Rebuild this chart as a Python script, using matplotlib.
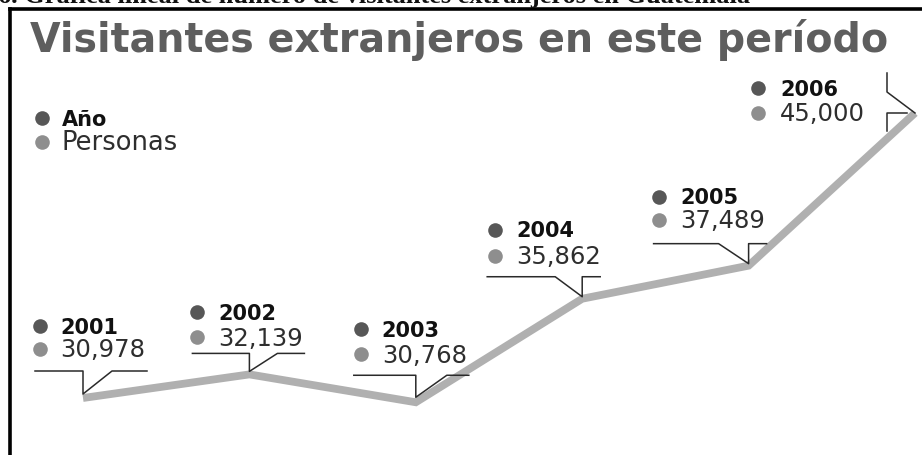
import matplotlib
matplotlib.use("Agg")
import matplotlib.pyplot as plt
from matplotlib.lines import Line2D

years = [2001, 2002, 2003, 2004, 2005, 2006]
visitors = [30978, 32139, 30768, 35862, 37489, 45000]
value_labels = ["30,978", "32,139", "30,768", "35,862", "37,489", "45,000"]

title = "Visitantes extranjeros en este período"
caption = "6. Gráfica lineal de número de visitantes extranjeros en Guatemala"
legend_labels = ["Año", "Personas"]

W, H = 922, 455
DARK_DOT = "#575757"
LIGHT_DOT = "#8e8e8e"
LINE_COL = "#b0b0b0"

fig = plt.figure(figsize=(W / 100, H / 100), dpi=100)
ax = fig.add_axes([0, 0, 1, 1])
ax.set_axis_off()

# pixel anchors: first year at x=83, last at x=915; 30978 at y=398, 45000 at y=113
px_per_year = (915 - 83) / (years[-1] - years[0])
x0 = years[0] - 83 / px_per_year
ax.set_xlim(x0, x0 + W / px_per_year)
units_per_px = (visitors[-1] - visitors[0]) / (398 - 113)
ax.set_ylim(visitors[0] - (H - 398) * units_per_px, visitors[0] + 398 * units_per_px)


def px(x, y):
    # figure pixel (y from top) -> figure fraction
    return x / W, 1 - y / H


# frame: thick left and top rules
fig.add_artist(Line2D([10 / W, 10 / W], [0, 1 - 9 / H], color="black", lw=2.6,
                      transform=fig.transFigure, solid_capstyle="projecting"))
fig.add_artist(Line2D([10 / W, 1], [1 - 9 / H, 1 - 9 / H], color="black", lw=2.6,
                      transform=fig.transFigure, solid_capstyle="projecting"))

# caption, cut off at the top edge as in the scan
fig.text(*px(-2, 3), caption, fontsize=19, fontweight="bold",
         family="Liberation Serif", color="#111111", va="baseline", ha="left")

fig.text(*px(30, 52), title, fontsize=28.5, fontweight="bold",
         family="DejaVu Sans", color="#5e5e5e", va="baseline", ha="left")

# legend
for i, (lab, col) in enumerate(zip(legend_labels, [DARK_DOT, LIGHT_DOT])):
    cy = 118 + 24 * i
    ax.plot(*px(42, cy), "o", ms=10.5, color=col, mec="none", transform=fig.transFigure)
    if i == 0:
        fig.text(*px(62, cy + 7.5), lab, fontsize=15, fontweight="bold",
                 color="#111111", va="baseline")
    else:
        fig.text(*px(62, cy + 8.5), lab, fontsize=18.5, color="#2e2e2e",
                 va="baseline")

# the line
ax.plot(years, visitors, color=LINE_COL, lw=5.6, solid_joinstyle="miter",
        solid_capstyle="butt", zorder=2)

# callout pointer shapes, pixel offsets from the point (dy downwards)
callouts = [
    [[(-48, -27), (0, -27), (0, -4), (29, -27), (64, -27)]],
    [[(-57, -21), (0, -21), (0, -3), (28, -21), (55, -21)]],
    [[(-62, -27), (0, -27), (0, -5), (31, -27), (53, -27)]],
    [[(-95, -22), (-27, -22), (0, -2), (0, -22), (18, -22)]],
    [[(-95, -22), (-30, -22), (0, -2), (0, -22), (18, -22)]],
    [[(-28, -40), (-28, -21), (0, 0)], [(-28, 18), (-28, 0), (-8, 0)]],
]
# label layout: dot dx, text dx, row dy (year), row dy (value)
label_pos = [
    (-43, -23, -72, -49),
    (-52, -31, -62, -37),
    (-55, -34, -73, -48),
    (-87, -66, -69, -43),
    (-90, -68, -69, -46),
    (-157, -135, -25, 0),
]

inv = ax.transData.inverted()
for yr, val, vlab, shapes, (ddx, tdx, r1, r2) in zip(years, visitors, value_labels,
                                                     callouts, label_pos):
    bx, by = ax.transData.transform((yr, val))
    for shape in shapes:
        pts = inv.transform([(bx + dx, by - dy) for dx, dy in shape])
        ax.plot(pts[:, 0], pts[:, 1], color="#2a2a2a", lw=1.1, zorder=3)
    for r, col in ((r1, DARK_DOT), (r2, LIGHT_DOT)):
        p = inv.transform([(bx + ddx, by - r)])[0]
        ax.plot(p[0], p[1], "o", ms=10.5, color=col, mec="none", zorder=4)
    p = inv.transform([(bx + tdx, by - r1 - 7.5)])[0]
    ax.text(p[0], p[1], str(yr), fontsize=15, fontweight="bold",
            color="#111111", va="baseline")
    p = inv.transform([(bx + tdx, by - r2 - 8.5)])[0]
    ax.text(p[0], p[1], vlab, fontsize=17.5, color="#2e2e2e", va="baseline")

fig.savefig("out.png", dpi=100, facecolor="white")
